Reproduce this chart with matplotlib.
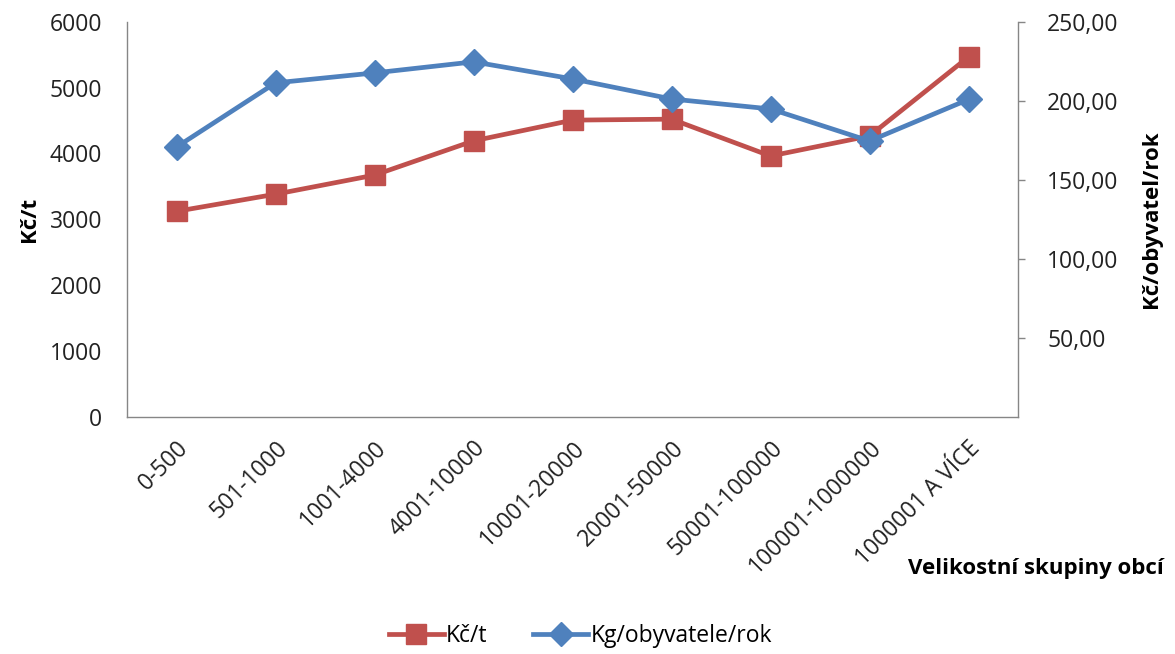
import matplotlib
matplotlib.use("Agg")
import matplotlib.pyplot as plt

# velikostni skupiny obci
categories = ["0-500", "501-1000", "1001-4000", "4001-10000", "10001-20000",
              "20001-50000", "50001-100000", "100001-1000000", "1000001 A VÍCE"]
kc_per_t = [3120, 3380, 3670, 4190, 4505, 4520, 3960, 4265, 5465]
kg_per_obyv = [170.7, 211.3, 217.6, 224.6, 213.8, 201.1, 194.8, 174.5, 200.8]

left_ticks = [0, 1000, 2000, 3000, 4000, 5000, 6000]
right_ticks = [50, 100, 150, 200, 250]
right_labels = ["50,00", "100,00", "150,00", "200,00", "250,00"]

red = "#C0504D"
blue = "#4F81BD"
grey = "#868686"

plt.rcParams["font.family"] = ["Open Sans", "DejaVu Sans"]

fig = plt.figure(figsize=(11.75, 6.54), dpi=100)
ax = fig.add_axes([0.1081, 0.3628, 0.7583, 0.6040])
ax2 = ax.twinx()

x = list(range(len(categories)))
l1, = ax.plot(x, kc_per_t, color=red, lw=3.4, marker="s", ms=15,
              markeredgecolor=red, label="Kč/t", zorder=3)
l2, = ax2.plot(x, kg_per_obyv, color=blue, lw=3.4, marker="D", ms=13,
               markeredgecolor=blue, label="Kg/obyvatele/rok", zorder=3)

ax.set_xlim(-0.5, len(categories) - 0.5)
ax.set_ylim(0, 6000)
ax2.set_ylim(0, 250)
ax.set_yticks(left_ticks)
ax2.set_yticks(right_ticks)
ax2.set_yticklabels(right_labels)

ax.set_xticks(x)
ax.set_xticklabels(categories, rotation=45, ha="right", rotation_mode="anchor")

for a in (ax, ax2):
    for s in a.spines.values():
        s.set_visible(False)
ax.spines["left"].set_visible(True)
ax.spines["bottom"].set_visible(True)
ax2.spines["right"].set_visible(True)
for s in (ax.spines["left"], ax.spines["bottom"], ax2.spines["right"]):
    s.set_color(grey)
    s.set_linewidth(1.0)

ax.tick_params(axis="y", length=0, pad=18, labelsize=16.5, colors="#222222")
ax.tick_params(axis="x", length=0, pad=14, labelsize=16.5, colors="#222222")
ax2.tick_params(axis="y", length=5, width=1, color=grey, pad=16,
                labelsize=16.5, labelcolor="#222222")

ax.set_ylabel("Kč/t", fontsize=16, fontweight="bold", labelpad=7)
ax2.set_ylabel("Kč/obyvatel/rok", fontsize=16, fontweight="bold", labelpad=16)
fig.text(0.99, 0.131, "Velikostní skupiny obcí", fontsize=16, fontweight="bold",
         ha="right", va="center")

fig.legend(handles=[l1, l2], loc="center", bbox_to_anchor=(0.494, 0.028),
           ncol=2, frameon=False, fontsize=16.5, handlelength=2.4,
           handletextpad=0.1, columnspacing=2.0, markerscale=0.95)

fig.savefig("out.png", dpi=100)
